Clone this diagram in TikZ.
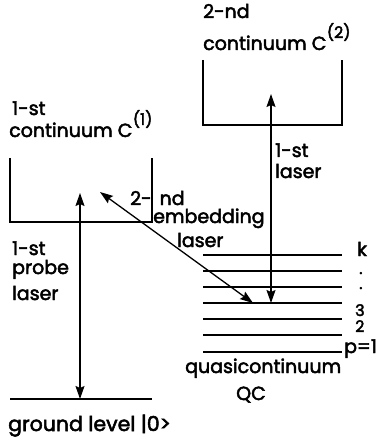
\documentclass[tikz,border=0pt]{standalone}
\usepackage{fontspec}
\setmainfont{Poppins}[FakeBold=2.5]
\usetikzlibrary{arrows.meta}
\begin{document}
\begin{tikzpicture}[x=1pt,y=-1pt,
  lvl/.style={line width=1.4pt},
  dbl/.style={line width=1.3pt,{Stealth[length=13pt,width=9pt,inset=2pt]}-{Stealth[length=13pt,width=9pt,inset=2pt]}},
  txt/.style={inner sep=0pt,anchor=base west,font=\fontsize{19}{22}\selectfont},
  small/.style={inner sep=0pt,anchor=base west,font=\fontsize{16}{18}\selectfont},
  dotf/.style={inner sep=0pt,anchor=base west,font=\fontsize{16}{16}\selectfont},
  sup/.style={inner sep=0pt,anchor=base west,font=\fontsize{16}{18}\selectfont}]
\useasboundingbox (0,0) rectangle (383,438);
% left continuum box
\coordinate (b1tl) at (10,158);
\coordinate (b1bl) at (10,222);
\coordinate (b1br) at (152,222);
\coordinate (b1tr) at (152,158);
\draw[lvl] (b1tl) -- (b1bl) -- (b1br) -- (b1tr);
% right continuum box
\coordinate (b2tl) at (203,60);
\coordinate (b2bl) at (203,125);
\coordinate (b2br) at (342,125);
\coordinate (b2tr) at (342,60);
\draw[lvl] (b2tl) -- (b2bl) -- (b2br) -- (b2tr);
% ground level
\coordinate (g0) at (10,399);
\coordinate (g1) at (152,399);
\draw[lvl] (g0) -- (g1);
% quasicontinuum levels
\foreach \i/\y in {1/255,2/271,3/287,4/303,5/319,6/335,7/352}{
  \coordinate (q\i a) at (203,\y);
  \coordinate (q\i b) at (342,\y);
  \draw[lvl] (q\i a) -- (q\i b);
}
% arrows
\coordinate (pTop) at (80,193);
\coordinate (pBot) at (80,399);
\draw[dbl] (pTop) -- (pBot);
\coordinate (lTop) at (271,94);
\coordinate (lBot) at (271,303);
\draw[dbl] (lTop) -- (lBot);
\coordinate (eTop) at (100,192);
\coordinate (eBot) at (253,303);
\draw[dbl] (eTop) -- (eBot);
% texts
\node[txt] (t1) at (12,115) {1-st};
\node[txt] (t2) at (9,137) {continuum C};
\node[sup] (t3) at (t2.base east) [yshift=12pt] {(1)};
\node[txt] (t4) at (203,18) {2-nd};
\node[txt] (t5) at (203,50) {continuum C};
\node[sup] (t6) at (t5.base east) [yshift=12pt] {(2)};
\node[txt] (t7) at (275,157) {1-st};
\node[txt] (t8) at (275,178) {laser};
\node[txt] (t9) at (12,255) {1-st};
\node[txt] (t10) at (12,274) {probe};
\node[txt] (t11) at (12,300) {laser};
\node[txt] (t12) at (130,205) {2-\hspace{8pt}nd};
\node[txt] (t13) at (153,223) {embedding};
\node[txt] (t14) at (177,247) {laser};
\node[txt] (k) at (357,256) {k};
\node[dotf] (d1) at (359,274) {.};
\node[dotf] (d2) at (359,289) {.};
\node[small] (n3) at (355,316) {3};
\node[small] (n2) at (355,332) {2};
\node[txt] (p1) at (344,353) {p=1};
\node[txt] (qc1) at (185,373) {quasicontinuum};
\node[txt] (qc2) at (236,400) {QC};
\node[txt,font=\fontsize{20.5}{22}\selectfont] (gl) at (8,431) {ground level |0>};
\end{tikzpicture}
\end{document}
